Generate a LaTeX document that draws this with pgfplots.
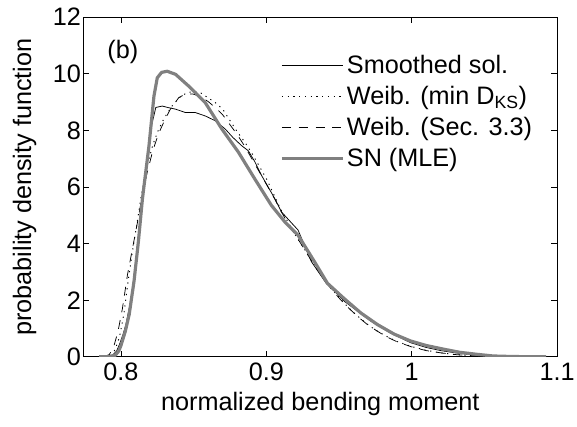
\documentclass[border=0pt]{standalone}
\usepackage{fontspec}
\setmainfont{Liberation Sans}
\usepackage{pgfplots}
\pgfplotsset{compat=1.18}
\definecolor{sngray}{RGB}{128,128,128}
\pgfplotstableread{
x y
0.780 0
0.790 0
0.794 0.05
0.797 0.2
0.799 0.44
0.8015 0.8
0.8034 1.14
0.806 1.8
0.808 2.43
0.8113 3.84
0.8137 5.12
0.817 6.64
0.8205 8.05
0.824 8.81
0.8284 8.86
0.833 8.8
0.8376 8.75
0.8444 8.63
0.8512 8.63
0.858 8.51
0.8649 8.34
0.8717 8.05
0.877 7.75
0.883 7.46
0.8876 7.28
0.892 6.9
0.8967 6.41
0.9058 5.59
0.9104 5.12
0.9218 4.48
0.9309 3.37
0.941 2.61
0.9537 1.96
0.9719 1.26
0.985 0.85
0.9992 0.5
1.01 0.33
1.02 0.22
1.03 0.14
1.04 0.08
1.05 0.04
1.06 0.02
1.07 0.01
1.0925 0
}\smoothed
\pgfplotstableread{
x y
0.789 0
0.793 0.05
0.796 0.25
0.799 0.7
0.802 1.5
0.805 2.7
0.808 3.75
0.811 4.7
0.814 5.7
0.818 6.75
0.822 7.5
0.826 8.05
0.830 8.45
0.835 8.85
0.840 9.15
0.845 9.32
0.850 9.38
0.855 9.32
0.860 9.15
0.865 8.98
0.870 8.75
0.875 8.35
0.880 7.95
0.885 7.6
0.890 7.2
0.895 6.75
0.900 6.3
0.905 5.75
0.910 5.2
0.915 4.75
0.920 4.3
0.925 3.9
0.930 3.5
0.935 3.1
0.940 2.75
0.945 2.4
0.950 2.1
0.955 1.82
0.960 1.57
0.965 1.34
0.970 1.13
0.975 0.95
0.980 0.8
0.985 0.66
0.990 0.54
1.000 0.36
1.010 0.23
1.020 0.14
1.030 0.08
1.040 0.045
1.050 0.02
1.060 0.01
1.070 0
1.0925 0
}\weibks
\pgfplotstableread{
x y
0.788 0
0.792 0.08
0.795 0.35
0.798 0.9
0.801 1.7
0.8045 2.9
0.808 3.84
0.811 4.65
0.814 5.5
0.818 6.5
0.822 7.3
0.826 7.9
0.830 8.35
0.834 8.75
0.8398 9.16
0.845 9.3
0.850 9.28
0.855 9.18
0.860 9.02
0.865 8.8
0.870 8.55
0.875 8.2
0.880 7.85
0.885 7.45
0.890 7.0
0.895 6.55
0.900 6.1
0.905 5.65
0.910 5.15
0.915 4.7
0.920 4.3
0.925 3.9
0.930 3.48
0.935 3.08
0.940 2.72
0.945 2.38
0.950 2.08
0.955 1.8
0.960 1.56
0.965 1.33
0.970 1.12
0.975 0.95
0.980 0.79
0.985 0.65
0.990 0.53
1.000 0.35
1.010 0.22
1.020 0.14
1.030 0.08
1.040 0.04
1.050 0.02
1.060 0.01
1.070 0
1.0925 0
}\weibsec
\pgfplotstableread{
x y
0.785 0
0.792 0.01
0.796 0.05
0.7985 0.2
0.800 0.4
0.803 0.9
0.8057 1.5
0.809 2.67
0.812 4.07
0.8148 5.59
0.8193 7.46
0.8227 9.21
0.825 9.86
0.828 10.05
0.8318 10.09
0.8376 9.98
0.8467 9.56
0.858 8.98
0.8694 8.05
0.8808 7.23
0.892 6.29
0.9035 5.35
0.913 4.75
0.9218 4.3
0.933 3.37
0.942 2.6
0.9537 2.05
0.965 1.55
0.9764 1.14
0.988 0.8
0.9992 0.56
1.010 0.4
1.022 0.27
1.033 0.16
1.0447 0.09
1.056 0.03
1.070 0.01
1.0925 0
}\snmle
\begin{document}
\begin{tikzpicture}
\path[use as bounding box] (-84bp,-69.7bp) rectangle (497bp,359.3bp);
\begin{axis}[
  at={(0,0)}, anchor=south west,
  scale only axis, width=477bp, height=342bp,
  xmin=0.7742, xmax=1.1, ymin=0, ymax=12,
  xtick={0.8,0.9,1,1.1}, ytick={0,2,...,12},
  tick align=inside, major tick length=6bp,
  axis line style={line width=0.8bp},
  every tick/.style={black, line width=0.7bp},
  /pgf/number format/assume math mode=true,
  ticklabel style={font=\fontsize{25.5}{30}\selectfont},
  xticklabel style={yshift=-3bp},
  yticklabel style={xshift=1bp},
  label style={font=\fontsize{25.5}{30}\selectfont},
  xlabel={normalized bending moment},
  ylabel={probability density function},
  xlabel style={at={(axis description cs:0.5,-0.14)}, anchor=center},
  ylabel style={at={(axis description cs:-0.124,0.5)}, anchor=center},
  legend style={draw=none, fill=none, at={(axis description cs:0.415,0.895)},
    anchor=north west, inner sep=0pt, row sep=7.5bp,
    font=\fontsize{25.5}{30}\selectfont},
  legend cell align=left,
  legend image code/.code={\draw[#1] (0bp,0bp) -- (62bp,0bp);},
]
\addplot[black, line width=0.75bp] table {\smoothed};
\addlegendentry{Smoothed sol.}
\addplot[black, line width=0.9bp, dash pattern=on 1.2bp off 4.6bp] table {\weibks};
\addlegendentry{Weib. (min D\textsubscript{KS})}
\addplot[black, line width=0.75bp, dash pattern=on 9bp off 8bp] table {\weibsec};
\addlegendentry{Weib. (Sec. 3.3)}
\addplot[sngray, line width=3.2bp] table {\snmle};
\addlegendentry{SN (MLE)}
\node[anchor=west, font=\fontsize{25.5}{30}\selectfont, inner sep=0pt] at (axis cs:0.7906,10.78) {(b)};
\end{axis}
\end{tikzpicture}
\end{document}
